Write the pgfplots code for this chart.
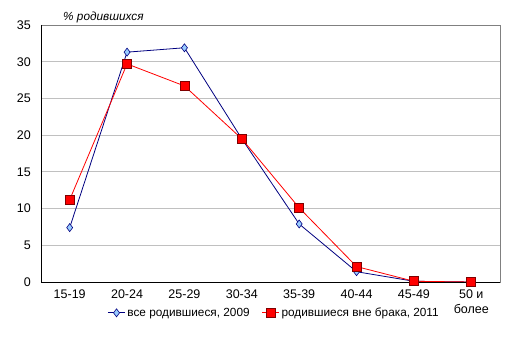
\documentclass[border=0pt]{standalone}
\usepackage{fontspec}
\setmainfont{Liberation Sans}
\usepackage{pgfplots}
\pgfplotsset{compat=1.18}
\definecolor{navyline}{RGB}{0,0,128}
\definecolor{lightblue}{RGB}{153,204,255}
\definecolor{darkred}{RGB}{128,0,0}
\definecolor{gridgray}{RGB}{192,192,192}
\begin{document}
\fontsize{12}{14}\selectfont
\begin{tikzpicture}
\path[use as bounding box] (-41pt,-76pt) rectangle (475pt,282pt);
\begin{axis}[
  at={(0pt,0pt)}, anchor=south west,
  scale only axis, width=459pt, height=257pt,
  xmin=0.5, xmax=8.5, ymin=0, ymax=35,
  xtick={1,...,8},
  xticklabels={15-19,20-24,25-29,30-34,35-39,40-44,45-49,{50 и\\более}},
  x tick label style={align=center, text depth=0pt, yshift=-4pt, font=\fontsize{12.5}{14.5}\selectfont},
  y tick label style={xshift=-6pt, font=\fontsize{12.5}{14}\selectfont},
  major x tick style={draw=none},
  extra x ticks={0.5,1.5,...,8.5},
  extra x tick labels={},
  extra x tick style={tick align=outside, major tick length=5pt, major tick style={draw=black}, grid=none},
  ytick={0,5,...,35},
  major y tick style={draw=none},
  ymajorgrids, grid style={gridgray, line width=0.8pt},
  axis line style={draw=gray},
  /pgf/number format/assume math mode=true,
  legend style={at={(axis description cs:0.508,-0.12)}, anchor=center, draw=none, legend columns=2, font=\fontsize{11.8}{13}\selectfont, /tikz/every even column/.append style={column sep=10pt}},
  legend cell align=left,
  clip=false,
]
\addplot[navyline, line width=0.8pt, mark=diamond*, mark size=4pt, mark options={fill=lightblue, draw=navyline, line width=0.6pt}]
  coordinates {(1,7.4) (2,31.3) (3,31.9) (4,19.5) (5,7.9) (6,1.4) (7,0.1) (8,0.0)};
\addlegendentry{все родившиеся, 2009}
\addplot[red, line width=0.8pt, mark=square*, mark size=4.5pt, mark options={fill=red, draw=darkred, line width=0.7pt}]
  coordinates {(1,11.2) (2,29.7) (3,26.7) (4,19.5) (5,10.1) (6,2.1) (7,0.1) (8,0.0)};
\addlegendentry{родившиеся вне брака, 2011}
\draw[black, line width=0.9pt] (rel axis cs:0,1) -- (rel axis cs:0,0) -- (rel axis cs:1,0);
\node[anchor=south west, inner sep=0pt, font=\itshape\fontsize{11.8}{14}\selectfont] at (rel axis cs:0.048,1.006) {\% родившихся};
\end{axis}
\end{tikzpicture}
\end{document}
